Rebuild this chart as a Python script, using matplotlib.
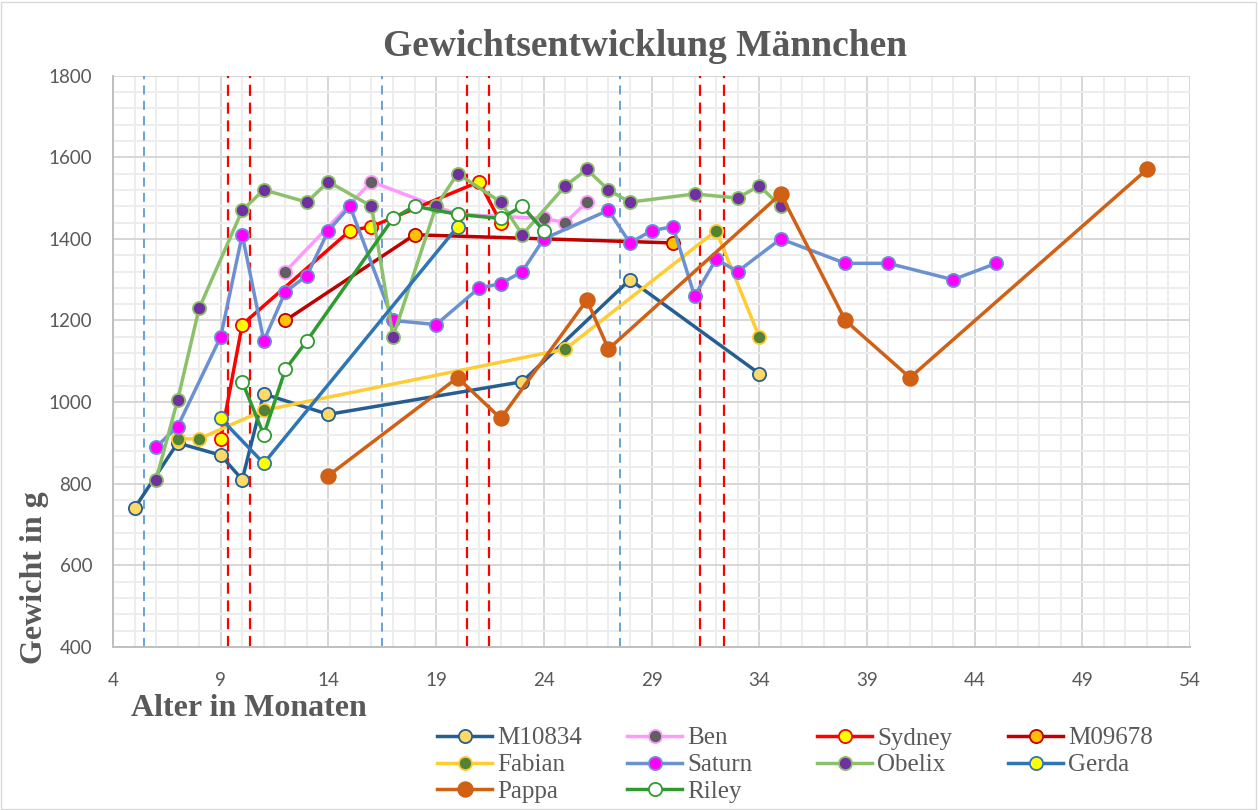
import matplotlib
matplotlib.use("Agg")
import matplotlib.pyplot as plt
from matplotlib.patches import Rectangle
from matplotlib.ticker import MultipleLocator

# ---------------- data ----------------
m10834_x = [5, 7, 9, 10, 11, 14, 23, 28, 34]
m10834_y = [740, 900, 870, 810, 1020, 970, 1050, 1300, 1070]
ben_x = [12, 16, 20, 24, 25, 26]
ben_y = [1320, 1540, 1460, 1450, 1440, 1490]
sydney_x = [9, 10, 15, 16, 21, 22]
sydney_y = [910, 1190, 1420, 1430, 1540, 1440]
m09678_x = [12, 18, 30]
m09678_y = [1200, 1410, 1390]
fabian_x = [7, 8, 11, 25, 32, 34]
fabian_y = [910, 910, 980, 1130, 1420, 1160]
saturn_x = [6, 7, 9, 10, 11, 12, 13, 14, 15, 17, 19, 21, 22, 23, 24, 27, 28,
            29, 30, 31, 32, 33, 35, 38, 40, 43, 45]
saturn_y = [890, 940, 1160, 1410, 1150, 1270, 1310, 1420, 1480, 1200, 1190,
            1280, 1290, 1320, 1400, 1470, 1390, 1420, 1430, 1260, 1350, 1320,
            1400, 1340, 1340, 1300, 1340]
obelix_x = [6, 7, 8, 10, 11, 13, 14, 16, 17, 19, 20, 22, 23, 25, 26, 27, 28,
            31, 33, 34, 35]
obelix_y = [810, 1005, 1230, 1470, 1520, 1490, 1540, 1480, 1160, 1480, 1560,
            1490, 1410, 1530, 1570, 1520, 1490, 1510, 1500, 1530, 1480]
gerda_x = [9, 11, 20]
gerda_y = [960, 850, 1430]
pappa_x = [14, 20, 22, 26, 27, 35, 38, 41, 52]
pappa_y = [820, 1060, 960, 1250, 1130, 1510, 1200, 1060, 1570]
riley_x = [10, 11, 12, 13, 17, 18, 20, 22, 23, 24]
riley_y = [1050, 920, 1080, 1150, 1450, 1480, 1460, 1450, 1480, 1420]

blue_marks = [5.45, 16.47, 27.54]
red_marks = [9.35, 10.36, 20.42, 21.45, 31.24, 32.37]

x_ticks = [4, 9, 14, 19, 24, 29, 34, 39, 44, 49, 54]
y_ticks = [400, 600, 800, 1000, 1200, 1400, 1600, 1800]

title = "Gewichtsentwicklung Männchen"
x_label = "Alter in Monaten"
y_label = "Gewicht in g"

# ---------------- styles ----------------
series = [
    ("M10834", m10834_x, m10834_y, "#255E91", "#FFD966", "#255E91"),
    ("Ben", ben_x, ben_y, "#FF99FF", "#606060", "#FF99FF"),
    ("Sydney", sydney_x, sydney_y, "#FF0000", "#FFFF00", "#FF0000"),
    ("M09678", m09678_x, m09678_y, "#C00000", "#FFC000", "#C00000"),
    ("Fabian", fabian_x, fabian_y, "#FFCC33", "#548235", "#FFCC33"),
    ("Saturn", saturn_x, saturn_y, "#6C91D2", "#FF00FF", "#6C91D2"),
    ("Obelix", obelix_x, obelix_y, "#8CC16B", "#7030A0", "#8CC16B"),
    ("Gerda", gerda_x, gerda_y, "#2E75B6", "#FFFF00", "#2E75B6"),
    ("Pappa", pappa_x, pappa_y, "#D06015", "#D06015", "#D06015"),
    ("Riley", riley_x, riley_y, "#2F9A2F", "#FFFFFF", "#2F9A2F"),
]

SERIF = "Liberation Serif"
GRAY = "#595959"

W, H = 1258, 810
fig = plt.figure(figsize=(W / 100, H / 100), dpi=100)

# chart border
fig.add_artist(Rectangle((1 / W, 1 / H), 1 - 3 / W, 1 - 3 / H, transform=fig.transFigure,
                         fill=False, edgecolor="#D9D9D9", linewidth=1.0))

left, right, top, bottom = 113, 1190, 75.6, 647
ax = fig.add_axes([left / W, 1 - bottom / H, (right - left) / W, (bottom - top) / H])
ax.set_xlim(4, 54)
ax.set_ylim(400, 1800)
ax.set_xticks(x_ticks)
ax.set_yticks(y_ticks)
ax.xaxis.set_minor_locator(MultipleLocator(1))
ax.yaxis.set_minor_locator(MultipleLocator(40))
ax.grid(which="minor", color="#EDEDED", linewidth=1.4, zorder=0)
ax.grid(which="major", color="#D6D6D6", linewidth=1.4, zorder=0)
ax.set_axisbelow(True)
for s in ["top", "right"]:
    ax.spines[s].set_visible(False)
for s in ["left", "bottom"]:
    ax.spines[s].set_color("#BFBFBF")
    ax.spines[s].set_linewidth(1.4)
ax.tick_params(which="both", length=0)
ax.tick_params(axis="x", pad=18, labelsize=13.5, labelcolor=GRAY)
ax.tick_params(axis="y", pad=15, labelsize=13.5, labelcolor=GRAY)
for lab in ax.get_xticklabels() + ax.get_yticklabels():
    lab.set_fontfamily("Lato")

for xv in blue_marks:
    ax.axvline(xv, color="#5B9BD5", linewidth=1.3, linestyle=(0, (5, 3.5)), zorder=1)
for xv in red_marks:
    ax.axvline(xv, color="#FF0000", linewidth=1.6, linestyle=(0, (5, 3)), zorder=1)

handles = {}
for i, (name, xs, ys, lc, mfc, mec) in enumerate(series):
    ms = 10.5 if name == "Pappa" else 9.5
    ln, = ax.plot(xs, ys, color=lc, linewidth=2.5, marker="o", markersize=ms,
                  markerfacecolor=mfc, markeredgecolor=mec, markeredgewidth=1.3,
                  zorder=3 + i * 0.1, label=name, solid_joinstyle="round")
    handles[name] = ln

# title and axis labels
fig.text(645 / W, 1 - 47 / H, title, ha="center", va="center", fontsize=27,
         fontweight="bold", family=SERIF, color=GRAY)
fig.text(131 / W, 1 - 708 / H, x_label, ha="left", va="center", fontsize=23,
         fontweight="bold", family=SERIF, color=GRAY)
fig.text(35 / W, 1 - 578 / H, y_label, ha="center", va="center", fontsize=23,
         fontweight="bold", family=SERIF, color=GRAY, rotation=90)

# legend in 4 columns
columns = [["M10834", "Fabian", "Pappa"], ["Ben", "Saturn", "Riley"],
           ["Sydney", "Obelix"], ["M09678", "Gerda"]]
col_x = [437, 627, 817, 1008]
for names, cx in zip(columns, col_x):
    leg = fig.legend([handles[n] for n in names], names, loc="upper left",
                     bbox_to_anchor=(cx / W, 1 - 727 / H), frameon=False,
                     borderpad=0, borderaxespad=0, handlelength=2.2,
                     handletextpad=0.2, labelspacing=0.17,
                     prop={"family": SERIF, "size": 18})
    for t in leg.get_texts():
        t.set_color(GRAY)

fig.savefig("out.png", dpi=100)
